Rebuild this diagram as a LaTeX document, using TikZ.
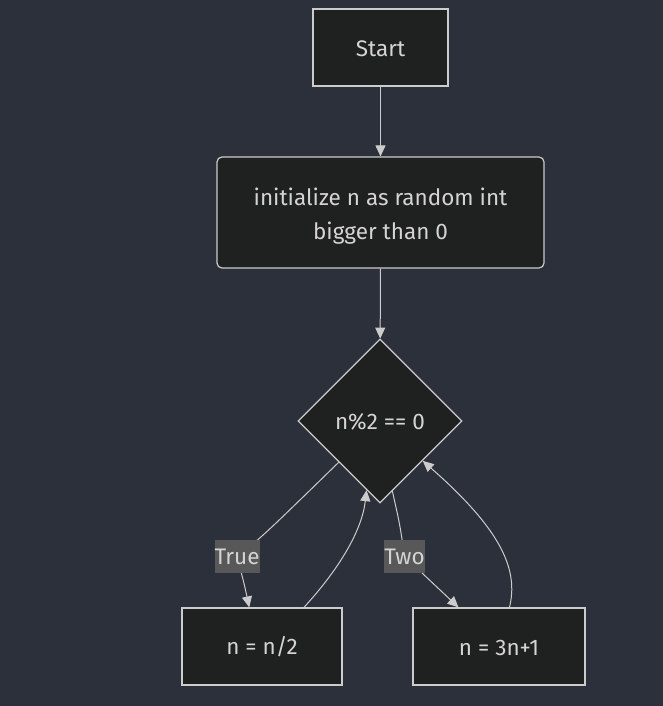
\documentclass[tikz,border=0pt]{standalone}
\usepackage{fontspec}
\setmainfont{Fira Sans}
\usetikzlibrary{shapes.geometric,arrows.meta}
\definecolor{bgc}{HTML}{2B303B}
\definecolor{nodefill}{HTML}{1F2020}
\definecolor{strokec}{HTML}{CCCCCC}
\definecolor{txtc}{HTML}{D4D4D4}
\definecolor{lblfill}{HTML}{585858}
\tikzset{
  box/.style={draw=strokec, fill=nodefill, line width=1.2pt, text=txtc, inner sep=0pt, font=\fontsize{22.5}{34}\selectfont, align=center},
  decbox/.style={diamond, aspect=1, draw=strokec, fill=nodefill, line width=1.2pt, text=txtc, inner sep=0pt, minimum width=164pt, minimum height=164pt, font=\fontsize{22.5}{27}\selectfont},
  lbl/.style={fill=lblfill, text=txtc, inner sep=0pt, font=\fontsize{22.5}{27}\selectfont, minimum height=33pt},
  conn/.style={draw=strokec, line width=1pt, -{Triangle[length=11pt,width=10pt]}},
  plain/.style={draw=strokec, line width=1pt}
}
\begin{document}
\begin{tikzpicture}[x=1pt,y=-1pt]
\fill[bgc] (0,0) rectangle (663,706);
\useasboundingbox (0,0) rectangle (663,706);
\node[box, minimum width=135pt, minimum height=77pt] (start) at (380.5,47.5) {\rule{0pt}{18pt}Start};
\node[box, rounded corners=5pt, minimum width=327pt, minimum height=111pt] (init) at (380.5,212.5) {\rule{0pt}{25pt}initialize n as random int\\bigger than 0};
\node[decbox] (dec) at (380,421) {\rule{0pt}{18pt}n\%2 == 0};
\node[box, minimum width=160pt, minimum height=77pt] (half) at (262,646.5) {\rule{0pt}{18pt}n = n/2};
\node[box, minimum width=172pt, minimum height=77pt] (triple) at (499,646.5) {\rule{0pt}{18pt}n = 3n+1};
\coordinate (tl) at (237,556.5);
\coordinate (tw) at (404.5,556.5);
\draw[conn] (start) -- (init);
\draw[conn] (init) -- (dec);
\draw[plain] (dec.225) .. controls (262,537) .. (tl);
\draw[conn] (tl) .. controls (244,583) .. (half.108.7);
\draw[conn] (half.43.9) .. controls (340,568) and (362,530) .. (dec.259.6);
\draw[plain] (dec.280.4) .. controls (400,525) .. (tw);
\draw[conn] (tw) -- (triple.136.8);
\draw[conn] (triple.75.4) .. controls (518,572) and (505,533) .. (dec.317.8);
\node[lbl, minimum width=44pt] (ltrue) at (tl) {True};
\node[lbl, minimum width=39pt] (ltwo) at (tw) {Two};
\end{tikzpicture}
\end{document}
